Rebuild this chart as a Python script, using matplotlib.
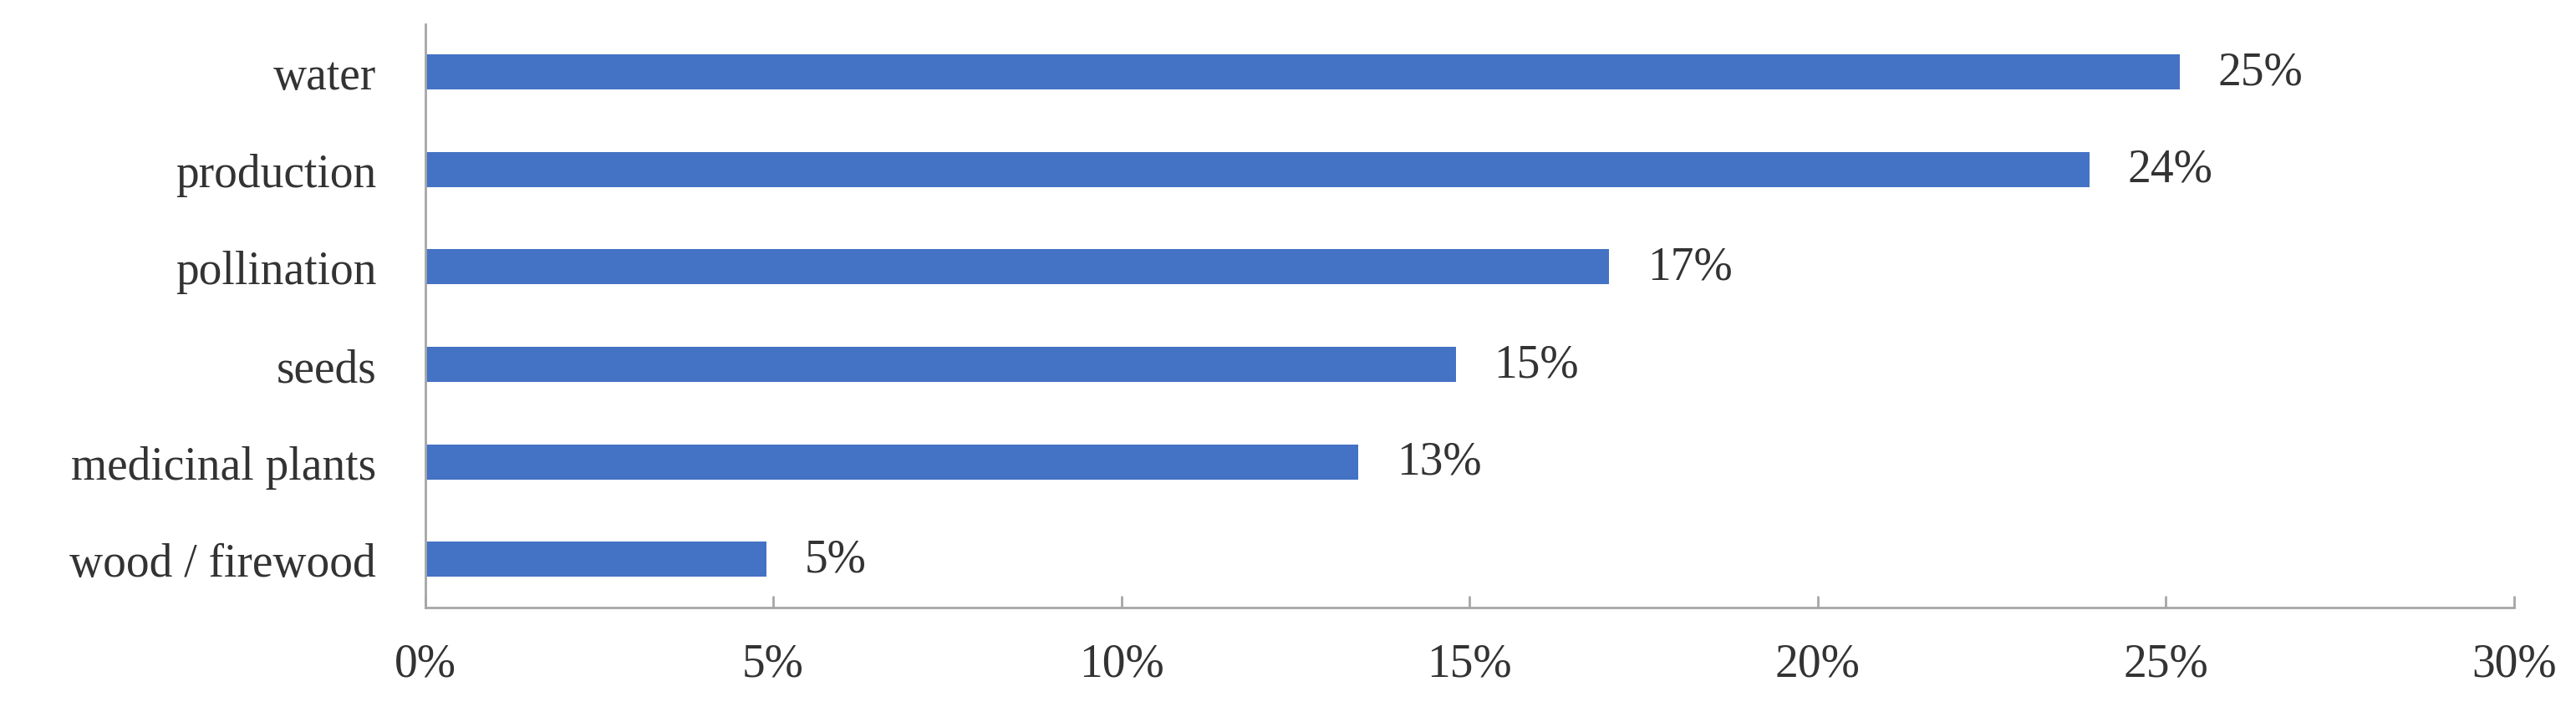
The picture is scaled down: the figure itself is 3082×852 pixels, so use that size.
import matplotlib.pyplot as plt
from matplotlib.ticker import PercentFormatter

categories = ["wood / firewood", "medicinal plants", "seeds", "pollination", "production", "water"]
values = [4.9, 13.4, 14.8, 17.0, 23.9, 25.2]
labels = ["5%", "13%", "15%", "17%", "24%", "25%"]

plt.rcParams['font.family'] = ['Liberation Serif', 'DejaVu Serif']
fig = plt.figure(figsize=(30.82, 8.53), dpi=100)
ax = fig.add_axes([0.165, 0.147, 0.811, 0.818])

ax.barh(categories, values, height=0.36, color="#4472C4")
for i, (v, t) in enumerate(zip(values, labels)):
    ax.text(v + 0.55, i, t, va="center", ha="left", fontsize=40, color="#333333")

ax.set_xlim(0, 30)
ax.set_ylim(-0.49, 5.49)
ax.set_xticks(range(0, 31, 5))
ax.xaxis.set_major_formatter(PercentFormatter(decimals=0))
for s in ["top", "right"]:
    ax.spines[s].set_visible(False)
for s in ["left", "bottom"]:
    ax.spines[s].set_color("#a6a6a6")
    ax.spines[s].set_linewidth(2)
ax.tick_params(axis="x", direction="in", length=10, width=2, color="#a6a6a6",
               labelsize=40, labelcolor="#333333", pad=30)
ax.tick_params(axis="y", length=0, labelsize=40, labelcolor="#333333", pad=42)

fig.savefig("out.png", dpi=100)
